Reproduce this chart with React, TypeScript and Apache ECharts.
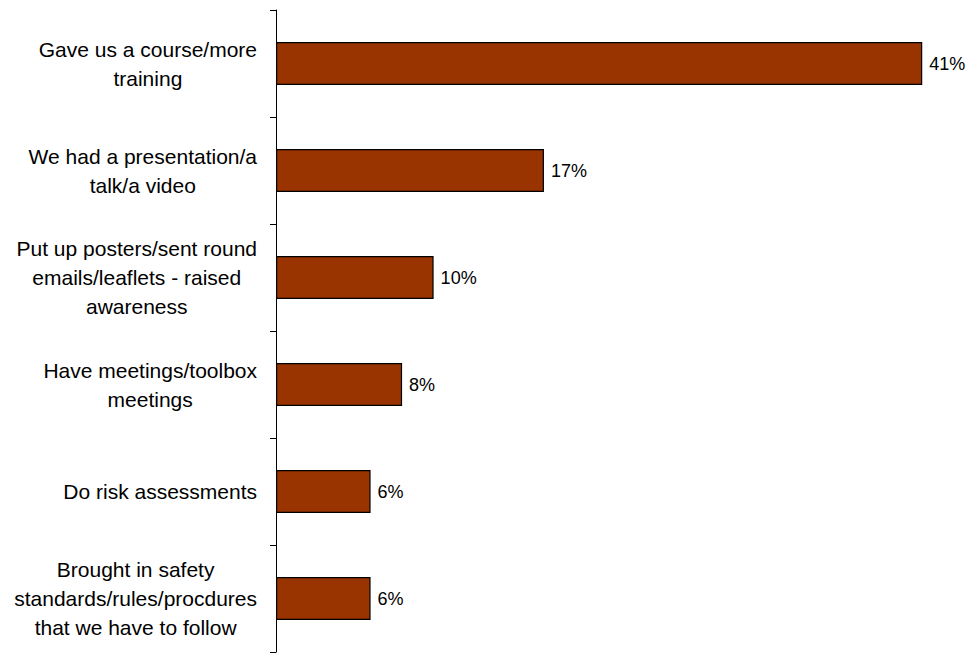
import React, { useEffect, useRef } from "react";
import * as echarts from "echarts";

const categories: string[] = [
  "Gave us a course/more\ntraining",
  "We had a presentation/a\ntalk/a video",
  "Put up posters/sent round\nemails/leaflets - raised\nawareness",
  "Have meetings/toolbox\nmeetings",
  "Do risk assessments",
  "Brought in safety\nstandards/rules/procdures\nthat we have to follow",
];
const values: number[] = [41, 17, 10, 8, 6, 6];

const LABEL_FONT = "Liberation Sans, Arial, sans-serif";
const LABEL_SIZE = 21;

function measure(text: string): number {
  const c = document.createElement("canvas");
  const ctx = c.getContext("2d");
  if (!ctx) return text.length * 10;
  ctx.font = `${LABEL_SIZE}px ${LABEL_FONT}`;
  return ctx.measureText(text).width;
}

export default function App() {
  const ref = useRef<HTMLDivElement>(null);
  useEffect(() => {
    if (!ref.current) return;
    const chart = echarts.init(ref.current, undefined, { renderer: "svg" });
    const rich: Record<string, any> = {};
    categories.forEach((cat, i) => {
      const w = Math.max(...cat.split("\n").map(measure)) + 2;
      rich["c" + i] = {
        width: w,
        align: "center",
        fontSize: LABEL_SIZE,
        fontFamily: LABEL_FONT,
        color: "#000",
        lineHeight: 29,
      };
    });
    chart.setOption({
      animation: false,
      backgroundColor: "#fff",
      grid: { left: 276, top: 10, bottom: 3, right: 37, containLabel: false },
      xAxis: {
        type: "value",
        min: 0,
        max: 42,
        show: false,
      },
      yAxis: {
        type: "category",
        inverse: true,
        data: categories,
        axisLine: { show: true, lineStyle: { color: "#000", width: 1 } },
        axisTick: { show: true, length: 6, lineStyle: { color: "#000" } },
        axisLabel: {
          margin: 18,
          interval: 0,
          formatter: (v: string) => {
            const idx = categories.indexOf(v);
            return v
              .split("\n")
              .map((l) => `{c${idx}|${l}}`)
              .join("\n");
          },
          rich,
        },
        splitLine: { show: false },
      },
      series: [
        {
          type: "bar",
          data: values,
          barWidth: 43,
          itemStyle: { color: "#993300", borderColor: "#000", borderWidth: 1.2 },
          label: {
            show: true,
            position: "right",
            distance: 7,
            formatter: "{c}%",
            fontSize: 18,
            fontFamily: LABEL_FONT,
            color: "#000",
          },
        },
      ],
    });
    return () => chart.dispose();
  }, []);
  return (
    <div
      ref={ref}
      style={{ position: "fixed", left: 0, top: 0, width: 975, height: 655 }}
    />
  );
}
